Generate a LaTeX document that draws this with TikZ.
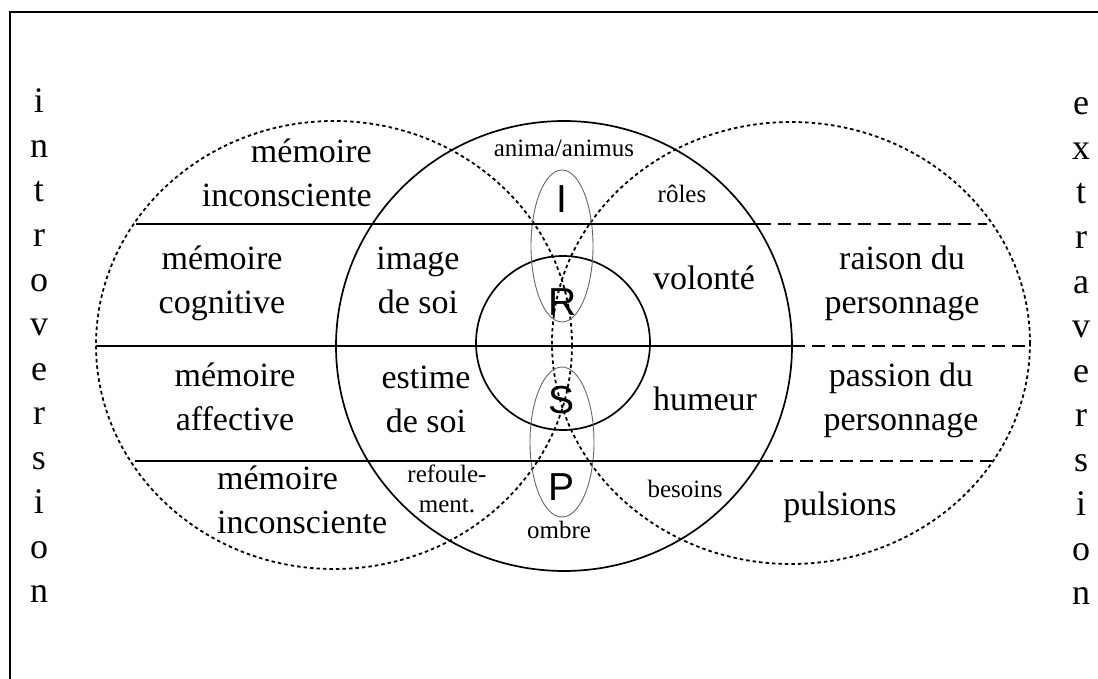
\documentclass[tikz,border=0pt]{standalone}
\usepackage{fontspec}
\setmainfont{Liberation Serif}
\setsansfont{Liberation Sans}

\begin{document}
\begin{tikzpicture}[x=1pt,y=-1pt,
  txt/.style={font=\fontsize{34}{44}\selectfont,inner sep=0pt,align=center},
  small/.style={font=\fontsize{25}{30}\selectfont,inner sep=0pt,align=center},
  letter/.style={font=\fontsize{36}{36}\selectfont,inner sep=0pt},
  psy/.style={font=\sffamily\fontsize{39}{39}\selectfont,inner sep=0pt},
  dots/.style={line width=1.8pt,dash pattern=on 3.5pt off 3pt},
  solid line/.style={line width=1.7pt},
  dash line/.style={line width=1.7pt,dash pattern=on 13pt off 7pt},
  thin oval/.style={line width=0.9pt,draw=black!60}]
  \useasboundingbox (0,0) rectangle (1098,679);

  % frame
  \draw[line width=2.4pt] (10,679) -- (10,12) -- (1098,12);

  % circles
  \draw[dots] (334,345) ellipse [x radius=238,y radius=224];
  \draw[dots] (791,343) ellipse [x radius=239,y radius=221];
  \draw[solid line] (564,346) ellipse [x radius=228,y radius=225];
  \draw[solid line] (563,343) circle [radius=87];
  \draw[thin oval] (562,246) ellipse [x radius=31,y radius=76];
  \draw[thin oval] (562,442) ellipse [x radius=32,y radius=75];

  % levels
  \draw[solid line] (136,224) -- (758,224);
  \draw[dash line] (758,224) -- (987,224);
  \draw[solid line] (96,346) -- (792,346);
  \draw[dash line] (792,346) -- (1029,346);
  \draw[solid line] (135,461) -- (760,461);
  \draw[dash line] (760,461) -- (992,461);

  % side words
  \foreach \l [count=\i from 0] in {i,n,t,r,o,v,e,r,s,i,o,n}
    \node[letter,anchor=base] (intro\i) at (39,113+44.5*\i) {\l};
  \foreach \l [count=\i from 0] in {e,x,t,r,a,v,e,r,s,i,o,n}
    \node[letter,anchor=base] (extra\i) at (1081,115+44.5*\i) {\l};

  % instances
  \node[psy,anchor=base] (I) at (562,213) {I};
  \node[psy,anchor=base] (R) at (563,315) {R};
  \node[psy,anchor=base] (S) at (562,413) {S};
  \node[psy,anchor=base] (P) at (562,500) {P};

  % left side (base = last line)
  \node[txt,anchor=base east,align=right] (memincA) at (372,207) {mémoire\\inconsciente};
  \node[txt,anchor=base] (memcog) at (222,313) {mémoire\\cognitive};
  \node[txt,anchor=base] (memaff) at (235,430) {mémoire\\affective};
  \node[txt,anchor=base west,align=left] (memincB) at (217,533) {mémoire\\inconsciente};

  % middle
  \node[small,anchor=base] (anima) at (564,157) {anima/animus};
  \node[small,anchor=base] (roles) at (682,203) {rôles};
  \node[txt,anchor=base] (image) at (418,313) {image\\de soi};
  \node[txt,anchor=base] (estime) at (426,432) {estime\\de soi};
  \node[txt,anchor=base] (volonte) at (704,290) {volonté};
  \node[txt,anchor=base] (humeur) at (705,410) {humeur};
  \node[small,anchor=base] (refoul) at (447,512) {refoule-\\ment.};
  \node[small,anchor=base] (besoins) at (685,497) {besoins};
  \node[small,anchor=base] (ombre) at (559,538) {ombre};

  % right side
  \node[txt,anchor=base] (raison) at (902,313) {raison du\\personnage};
  \node[txt,anchor=base] (passion) at (901,430) {passion du\\personnage};
  \node[txt,anchor=base] (pulsions) at (840,515) {pulsions};
\end{tikzpicture}
\end{document}
